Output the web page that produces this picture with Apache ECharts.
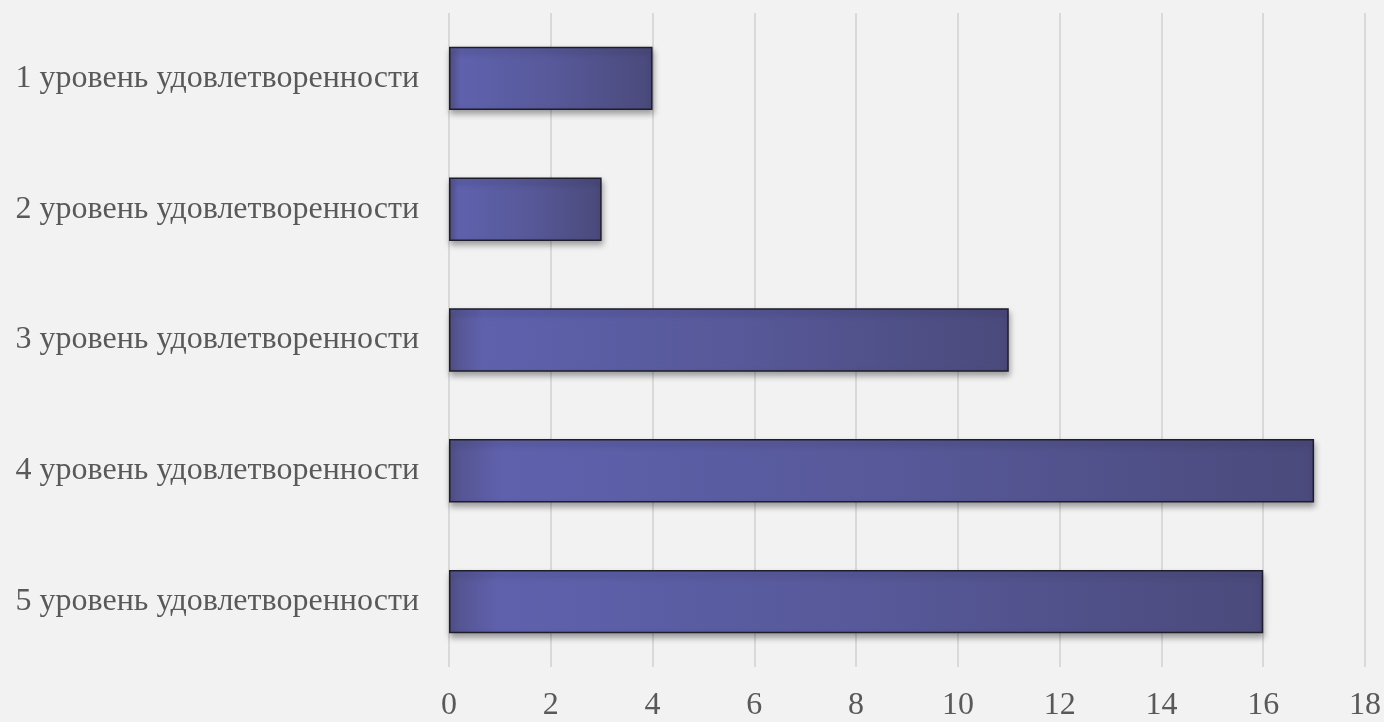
<!DOCTYPE html>
<html>
<head>
<meta charset="utf-8">
<script src="https://cdn.jsdelivr.net/npm/echarts@6/dist/echarts.min.js"></script>
<style>
html,body{margin:0;padding:0;background:#f2f2f2;}
#chart{width:1384px;height:722px;}
</style>
</head>
<body>
<div id="chart"></div>
<script>
const categories = [
  '1 уровень удовлетворенности',
  '2 уровень удовлетворенности',
  '3 уровень удовлетворенности',
  '4 уровень удовлетворенности',
  '5 уровень удовлетворенности'
];
const values = [4, 3, 11, 17, 16];
const axisMin = 0, axisMax = 18, axisStep = 2;

const chart = echarts.init(document.getElementById('chart'), null, {renderer: 'canvas'});
chart.setOption({
  backgroundColor: '#f2f2f2',
  animation: false,
  grid: {left: 449, right: 19, top: 13, bottom: 52, containLabel: false},
  xAxis: {
    type: 'value', min: axisMin, max: axisMax, interval: axisStep,
    axisLine: {show: false}, axisTick: {show: false},
    splitLine: {show: true, lineStyle: {color: '#d9d9d9', width: 2}},
    axisLabel: {color: '#595959', fontFamily: 'Liberation Serif', fontSize: 32, margin: 23}
  },
  yAxis: {
    type: 'category', data: categories, inverse: true,
    axisLine: {show: false}, axisTick: {show: false}, splitLine: {show: false},
    axisLabel: {color: '#595959', fontFamily: 'Liberation Serif', fontSize: 32, margin: 30}
  },
  series: [{
    type: 'bar', data: values, barWidth: '48.5%',
    itemStyle: {
      color: new echarts.graphic.LinearGradient(0, 0, 1, 0, [
        {offset: 0, color: '#53528c'},
        {offset: 0.06, color: '#5f61ad'},
        {offset: 0.5, color: '#57599a'},
        {offset: 1, color: '#4b4a7c'}
      ]),
      borderColor: '#1e1e2a', borderWidth: 1.5,
      shadowColor: 'rgba(0,0,0,0.35)', shadowBlur: 6, shadowOffsetY: 4, shadowOffsetX: 1
    }
  }]
});
</script>
</body>
</html>
